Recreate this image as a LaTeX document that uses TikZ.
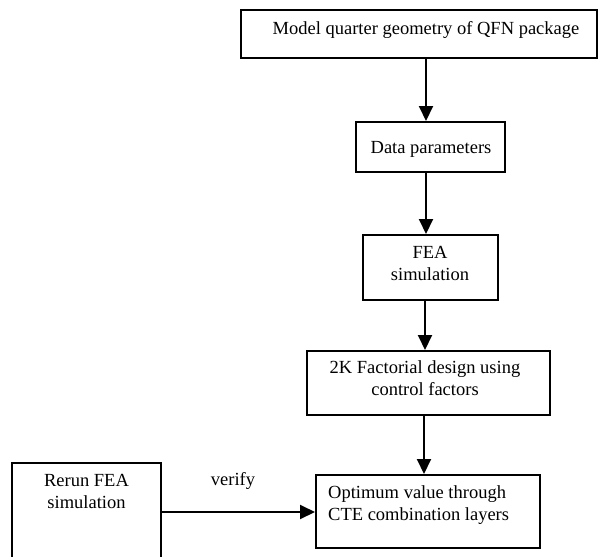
\documentclass[tikz,border=0pt]{standalone}
\usepackage{fontspec}
\setmainfont{Liberation Serif}
\usetikzlibrary{arrows.meta}
\begin{document}
\begin{tikzpicture}[x=1pt,y=-1pt,
  box/.style={draw,line width=2pt,inner sep=0pt,rectangle},
  lbl/.style={inner sep=0pt,anchor=base,align=center,font=\fontsize{18.5}{22}\selectfont},
  arr/.style={line width=2pt,-{Triangle[length=15pt,width=14pt]}}]
\useasboundingbox (0,0) rectangle (600,557);
\clip (0,0) rectangle (600,557);
\node[box,minimum width=356pt,minimum height=48pt] (b1) at (419,34) {};
\node[box,minimum width=149pt,minimum height=50pt] (b2) at (430.5,147) {};
\node[box,minimum width=135pt,minimum height=65pt] (b3) at (430.5,267.5) {};
\node[box,minimum width=243pt,minimum height=64pt] (b4) at (428.5,383) {};
\node[box,minimum width=224pt,minimum height=73pt] (b5) at (428,511.5) {};
\node[box,minimum width=149pt,minimum height=137pt] (b6) at (86.5,531.5) {};
\node[lbl] (t1) at (426,34) {Model quarter geometry of QFN package};
\node[lbl] (t2) at (431,153) {Data parameters};
\node[lbl] (t3) at (430,280) {FEA\\simulation};
\node[lbl] (t4) at (425,395) {2K Factorial design using\\control factors};
\node[lbl,anchor=base west,align=left] (t5) at (328,520) {Optimum value through\\CTE combination layers};
\node[lbl] (t6) at (86.5,508) {Rerun FEA\\simulation};
\node[lbl] (tv) at (233,485) {verify};
\coordinate (c1) at (426,0);
\coordinate (c3) at (425,0);
\coordinate (c4) at (424,0);
\coordinate (r5) at (0,512);
\draw[arr] (b1.south -| c1) -- (b2.north -| c1);
\draw[arr] (b2.south -| c1) -- (b3.north -| c1);
\draw[arr] (b3.south -| c3) -- (b4.north -| c3);
\draw[arr] (b4.south -| c4) -- (b5.north -| c4);
\draw[arr] (b6.east |- r5) -- (b5.west |- r5);
\end{tikzpicture}
\end{document}
